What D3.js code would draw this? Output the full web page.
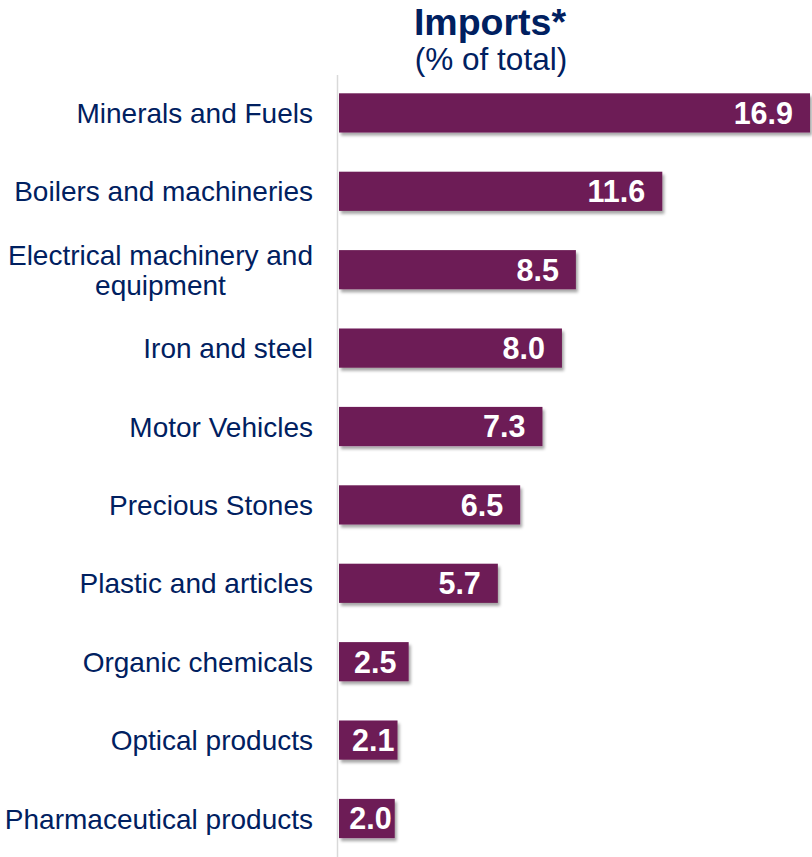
<!DOCTYPE html>
<html>
<head>
<meta charset="utf-8">
<script src="https://cdn.jsdelivr.net/npm/d3@7"></script>
<style>
  html, body { margin: 0; padding: 0; background: #ffffff; }
  svg { display: block; }
  text { font-family: "Liberation Sans", Arial, sans-serif; }
</style>
</head>
<body>
<svg id="chart" width="812" height="857"></svg>
<script>
const categories = [
  "Minerals and Fuels",
  "Boilers and machineries",
  "Electrical machinery and equipment",
  "Iron and steel",
  "Motor Vehicles",
  "Precious Stones",
  "Plastic and articles",
  "Organic chemicals",
  "Optical products",
  "Pharmaceutical products"
];
const values = [16.9, 11.6, 8.5, 8.0, 7.3, 6.5, 5.7, 2.5, 2.1, 2.0];
const labelLines = [
  ["Minerals and Fuels"],
  ["Boilers and machineries"],
  ["Electrical machinery and", "equipment"],
  ["Iron and steel"],
  ["Motor Vehicles"],
  ["Precious Stones"],
  ["Plastic and articles"],
  ["Organic chemicals"],
  ["Optical products"],
  ["Pharmaceutical products"]
];
const titleText = "Imports*";
const subtitleText = "(% of total)";

const W = 812, H = 857;
const navy = "#002060";
const barColor = "#6D1D56";

const svg = d3.select("#chart");

const defs = svg.append("defs");
const f = defs.append("filter").attr("id", "shadow")
  .attr("x", "-5%").attr("y", "-20%").attr("width", "115%").attr("height", "150%");
f.append("feDropShadow").attr("dx", 2).attr("dy", 3).attr("stdDeviation", 1.6)
  .attr("flood-color", "#000").attr("flood-opacity", 0.35);

const x = d3.scaleLinear().domain([0, 16.9]).range([339, 810]);
const y = d3.scaleBand().domain(categories).range([73.7, 857.7])
  .paddingInner(0.5).paddingOuter(0.25);

// title
svg.append("text").attr("x", 490).attr("y", 34.5)
  .attr("text-anchor", "middle").attr("fill", navy)
  .attr("font-size", 37.5).attr("font-weight", "bold").text(titleText);
svg.append("text").attr("x", 491).attr("y", 69.5)
  .attr("text-anchor", "middle").attr("fill", navy)
  .attr("font-size", 31.5).text(subtitleText);

// axis line
svg.append("line").attr("x1", 337.5).attr("x2", 337.5)
  .attr("y1", 75).attr("y2", H)
  .attr("stroke", "#d9d9d9").attr("stroke-width", 1.5);

// bars
svg.append("g").selectAll("rect").data(categories).join("rect")
  .attr("x", x(0))
  .attr("y", d => y(d))
  .attr("width", (d, i) => x(values[i]) - x(0))
  .attr("height", y.bandwidth())
  .attr("fill", barColor)
  .attr("filter", "url(#shadow)");

// value labels
const vl = svg.append("g").selectAll("text").data(categories).join("text")
  .attr("y", d => y(d) + y.bandwidth() / 2)
  .attr("dy", "0.36em")
  .attr("fill", "#ffffff").attr("font-weight", "bold").attr("font-size", 30.5)
  .attr("text-anchor", "end")
  .text((d, i) => values[i].toFixed(1));
vl.each(function (d, i) {
  const w = this.getComputedTextLength();
  let right = x(values[i]) - 17;
  if (right - w < x(0) + 15) right = Math.min(x(values[i]) - 3, x(0) + 15 + w);
  d3.select(this).attr("x", right);
});

// category labels
const labelRight = 313;
const lh = 30;
const cg = svg.append("g");
categories.forEach((c, i) => {
  const lines = labelLines[i];
  const cy = y(c) + y.bandwidth() / 2;
  const fs = 28;
  if (lines.length === 1) {
    cg.append("text").attr("x", labelRight).attr("y", cy).attr("dy", "0.36em")
      .attr("text-anchor", "end").attr("fill", navy).attr("font-size", fs)
      .text(lines[0]);
  } else {
    const t1 = cg.append("text").attr("x", labelRight)
      .attr("y", cy - lh / 2).attr("dy", "0.36em")
      .attr("text-anchor", "end").attr("fill", navy).attr("font-size", fs)
      .text(lines[0]);
    const w1 = t1.node().getComputedTextLength();
    cg.append("text").attr("x", labelRight - w1 / 2)
      .attr("y", cy + lh / 2).attr("dy", "0.36em")
      .attr("text-anchor", "middle").attr("fill", navy).attr("font-size", fs)
      .text(lines[1]);
  }
});
</script>
</body>
</html>
